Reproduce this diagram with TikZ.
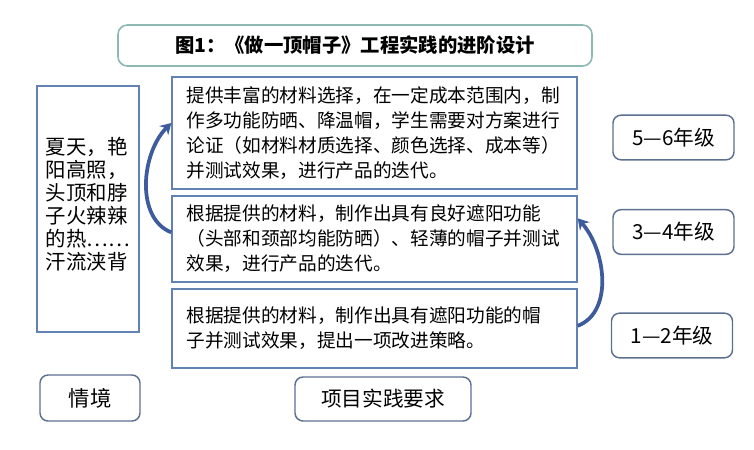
\documentclass[tikz,border=0pt]{standalone}
\usepackage{fontspec}
\setmainfont{Noto Sans CJK SC}
\usetikzlibrary{arrows.meta}
\definecolor{boxblue}{HTML}{6282B2}
\definecolor{arrowblue}{HTML}{3E5C9C}
\definecolor{titleborder}{HTML}{8DB8B3}
\definecolor{gradeborder}{HTML}{5C7090}
\tikzset{
  plainbox/.style={draw=boxblue, line width=1.1pt, fill=white, inner sep=0pt},
  textbox/.style={plainbox, align=left, text width=282pt, inner xsep=10.5pt,
     font=\fontsize{14pt}{18.8pt}\selectfont, minimum width=303.75pt},
  gradebox/.style={draw=gradeborder, line width=1.1pt, rounded corners=6pt, fill=white,
     minimum width=90.75pt, minimum height=33.5pt, font=\fontsize{15.5pt}{18pt}\selectfont},
  labelbox/.style={draw=gradeborder, line width=1.1pt, rounded corners=6pt, fill=white},
  curvearrow/.style={draw=arrowblue, line width=2.8pt, -{Stealth[length=8pt,width=9.5pt]}}
}
\begin{document}
\begin{tikzpicture}[x=0.75pt,y=-0.75pt]
\useasboundingbox (0,0) rectangle (754,450);
\fill[white] (0,0) rectangle (754,450);

\node[draw=titleborder, line width=1.2pt, rounded corners=7pt, fill=white,
      minimum width=355.5pt, minimum height=30.75pt,
      font=\fontsize{14.5pt}{17pt}\selectfont\bfseries] (title) at (355,45.5)
  {图1：《做一顶帽子》工程实践的进阶设计};

\node[plainbox, minimum width=76.5pt, minimum height=184.5pt] (scene) at (88,209) {};
\node[align=left, inner sep=0pt, font=\fontsize{15.3pt}{17.3pt}\selectfont]
  (scenetext) at (88,204)
  {夏天，艳\\阳高照，\\头顶和脖\\子火辣辣\\的热……\\汗流浃背};

\node[textbox, minimum height=84pt] (b1) at (374.5,133)
  {提供丰富的材料选择，在一定成本范围内，制\\作多功能防晒、降温帽，学生需要对方案进行\\论证（如材料材质选择、颜色选择、成本等）\\并测试效果，进行产品的迭代。};
\node[textbox, minimum height=64.5pt] (b2) at (374.5,239)
  {根据提供的材料，制作出具有良好遮阳功能\\（头部和颈部均能防晒）、轻薄的帽子并测试\\效果，进行产品的迭代。};
\node[textbox, minimum height=59.25pt] (b3) at (374.5,328.5)
  {根据提供的材料，制作出具有遮阳功能的帽\\子并测试效果，提出一项改进策略。};

\node[gradebox] (g56) at (673.5,137.5) {5—6年级};
\node[gradebox] (g34) at (673.5,232) {3—4年级};
\node[gradebox] (g12) at (672,335.5) {1—2年级};

\node[labelbox, minimum width=75pt, minimum height=34.5pt,
      font=\fontsize{16pt}{18pt}\selectfont] (qj) at (90,398) {情境};
\node[labelbox, minimum width=132pt, minimum height=33pt,
      font=\fontsize{15.5pt}{18pt}\selectfont] (xm) at (383,399) {项目实践要求};

\coordinate (l1) at ([yshift=5pt]b2.west);
\coordinate (l2) at ([yshift=7.5pt]b1.west);
\draw[curvearrow] (l1) .. controls +(-36,-14) and +(-30,30) .. (l2);

\coordinate (r1) at ([yshift=2pt]b3.east);
\coordinate (r2) at ([yshift=15.5pt]b2.east);
\draw[curvearrow] (r1) .. controls +(36,-14) and +(28,32) .. (r2);
\end{tikzpicture}
\end{document}
